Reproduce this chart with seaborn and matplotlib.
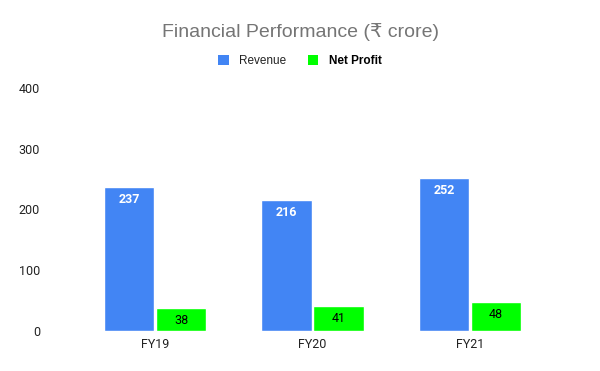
import matplotlib
matplotlib.use("Agg")
import matplotlib.pyplot as plt
import seaborn as sns
import pandas as pd
from matplotlib.patches import Patch

years = ["FY19", "FY20", "FY21"]
revenue = [237, 216, 252]
net_profit = [38, 41, 48]
yticks = [0, 100, 200, 300, 400]

df = pd.DataFrame({
    "Year": years * 2,
    "Metric": ["Revenue"] * 3 + ["Net Profit"] * 3,
    "Value": revenue + net_profit,
})

sns.set_style("white")
plt.rcParams['font.family'] = ['Roboto', 'DejaVu Sans']

colors = {"Revenue": "#4285F4", "Net Profit": "#00FF00"}

fig = plt.figure(figsize=(6, 3.71), dpi=100)
ax = fig.add_axes([0.127, 0.108, 0.788, 0.655])

sns.barplot(data=df, x="Year", y="Value", hue="Metric", palette=colors,
            width=0.66, gap=0.03, ax=ax, legend=False, saturation=1)

ax.set_ylim(0, 400)
ax.set_xlim(-0.5, 2.5)
ax.set_yticks(yticks)
ax.set_xlabel("")
ax.set_ylabel("")
for s in ax.spines.values():
    s.set_visible(False)
ax.tick_params(axis="y", length=0, pad=26, labelsize=9, labelcolor="#222222")
ax.tick_params(axis="x", length=0, pad=5, labelsize=9, labelcolor="#222222")
ax.grid(False)

# value labels
ax.bar_label(ax.containers[0], padding=-14, color="white", fontsize=9,
             fontweight="bold")
ax.bar_label(ax.containers[1], padding=-14, color="black", fontsize=9)

fig.text(0.5, 0.913, "Financial Performance (₹ crore)", ha="center", va="center",
         fontsize=14, color="#757575",
         family=['Liberation Sans', 'DejaVu Sans'])

handles = [Patch(facecolor=colors["Revenue"], edgecolor="none"),
           Patch(facecolor=colors["Net Profit"], edgecolor="none")]
leg = fig.legend(handles, ["Revenue", "Net Profit"], loc="center",
                 bbox_to_anchor=(0.5, 0.835), ncol=2, frameon=False,
                 prop={'family': ['Liberation Sans'], 'size': 8.5},
                 handlelength=0.9, handleheight=0.9,
                 handletextpad=0.9, columnspacing=1.8)
texts = leg.get_texts()
texts[0].set_color("#222222")
texts[1].set_fontweight("bold")
texts[1].set_color("black")

fig.savefig("out.png", dpi=100)
